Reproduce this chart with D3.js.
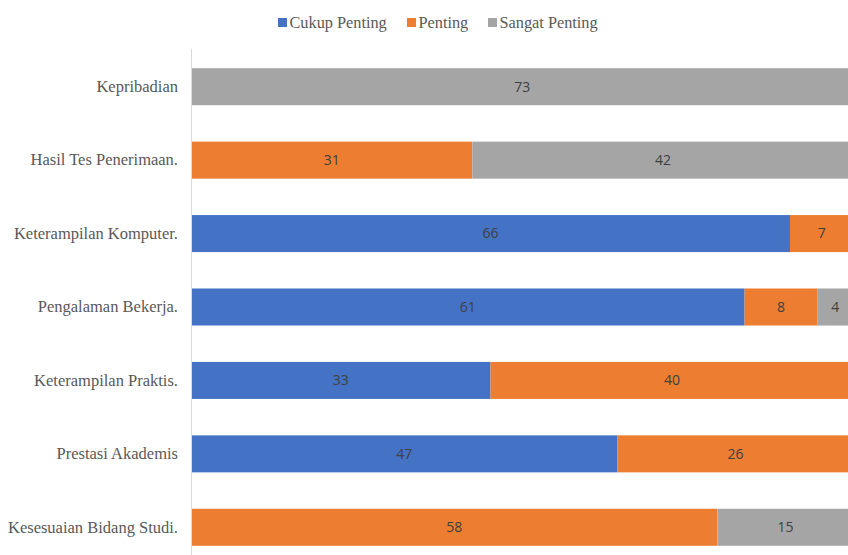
<!DOCTYPE html>
<html>
<head>
<meta charset="utf-8">
<script src="https://cdn.jsdelivr.net/npm/d3@7"></script>
<style>
  html, body { margin: 0; padding: 0; background: #fff; }
  svg { display: block; }
</style>
</head>
<body>
<svg id="chart" width="848" height="555"></svg>
<script>
// Categories, top to bottom
const categories = [
  "Kepribadian",
  "Hasil Tes Penerimaan.",
  "Keterampilan Komputer.",
  "Pengalaman Bekerja.",
  "Keterampilan Praktis.",
  "Prestasi Akademis",
  "Kesesuaian Bidang Studi."
];
const seriesNames = ["Cukup Penting", "Penting", "Sangat Penting"];
const cukupPenting  = [0, 0, 66, 61, 33, 47, 0];
const penting       = [0, 31, 7, 8, 40, 26, 58];
const sangatPenting = [73, 42, 0, 4, 0, 0, 15];
const colors = ["#4472C4", "#ED7D31", "#A5A5A5"];

const SERIF = "'Liberation Serif'";
const SANS = "'Open Sans'";

const rows = categories.map((c, i) => ({
  category: c,
  "Cukup Penting": cukupPenting[i],
  "Penting": penting[i],
  "Sangat Penting": sangatPenting[i]
}));

const svg = d3.select("#chart");

const x = d3.scaleLinear().domain([0, 73]).range([191, 853.5]);
const y = d3.scaleBand().domain(categories).range([50, 564]).paddingInner(0.496).paddingOuter(0.248);

const stacked = d3.stack().keys(seriesNames)(rows);
const color = d3.scaleOrdinal().domain(seriesNames).range(colors);

// Bars
const groups = svg.append("g").selectAll("g").data(stacked).join("g")
  .attr("fill", d => color(d.key));

groups.selectAll("rect").data(d => d.filter(p => p[1] - p[0] > 0)).join("rect")
  .attr("x", d => x(d[0]))
  .attr("y", d => y(d.data.category))
  .attr("width", d => x(d[1]) - x(d[0]))
  .attr("height", y.bandwidth());

// Value labels
groups.selectAll("text").data(d => d.filter(p => p[1] - p[0] > 0).map(p => ({p, key: d.key}))).join("text")
  .attr("x", d => (x(d.p[0]) + x(d.p[1])) / 2)
  .attr("y", d => y(d.p.data.category) + y.bandwidth() / 2)
  .attr("dy", "0.35em")
  .attr("text-anchor", "middle")
  .style("font-family", SANS)
  .style("font-size", "14px")
  .attr("fill", "#404040")
  .text(d => d.p[1] - d.p[0]);

// Category axis
const yAxis = d3.axisLeft(y).tickSize(0).tickPadding(13);
const ag = svg.append("g").attr("transform", "translate(191,0)").call(yAxis);
ag.select(".domain").attr("stroke", "#d9d9d9").attr("d", "M0.5,49V555");
ag.selectAll("text")
  .style("font-family", SERIF)
  .style("font-size", "16.5px")
  .attr("fill", "#595959");

// Legend
const legendX = [278, 407, 488];
const legend = svg.append("g").selectAll("g").data(seriesNames).join("g")
  .attr("transform", (d, i) => `translate(${legendX[i]},0)`);
legend.append("rect").attr("x", 0).attr("y", 18).attr("width", 9).attr("height", 9)
  .attr("fill", d => color(d));
legend.append("text").attr("x", 11.5).attr("y", 22).attr("dy", "0.35em")
  .style("font-family", SERIF)
  .style("font-size", "16.3px")
  .attr("fill", "#595959")
  .text(d => d);
</script>
</body>
</html>
